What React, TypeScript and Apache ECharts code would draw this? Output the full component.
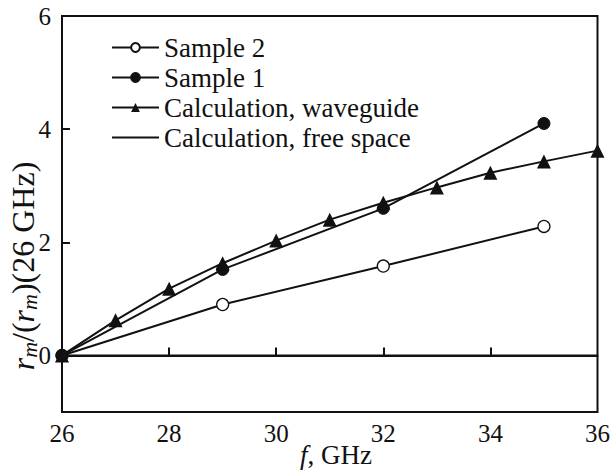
import React, { useEffect, useRef } from "react";
import * as echarts from "echarts";

const freqSample = [26, 29, 32, 35];
const sample2 = [0, 0.9, 1.58, 2.28];
const sample1 = [0, 1.52, 2.6, 4.1];
const freqCalc = [26, 27, 28, 29, 30, 31, 32, 33, 34, 35, 36];
const waveguide = [0, 0.62, 1.18, 1.63, 2.03, 2.4, 2.7, 2.97, 3.23, 3.43, 3.62];
const freeSpaceF = [26, 36];
const freeSpace = [0, 0];
const xTicks = [26, 28, 30, 32, 34, 36];
const yTicks = [0, 2, 4, 6];

const FONT = "Liberation Serif";
const INK = "#111";

export default function App() {
  const ref = useRef<HTMLDivElement>(null);
  useEffect(() => {
    const chart = echarts.init(ref.current!, null, { renderer: "svg" });
    const pair = (xs: number[], ys: number[]) => xs.map((x, i) => [x, ys[i]]);
    const lineStyle = { color: INK, width: 2 };
    chart.setOption({
      animation: false,
      backgroundColor: "#fff",
      textStyle: { fontFamily: FONT },
      grid: {
        left: 62,
        right: 13,
        top: 16,
        bottom: 58,
        show: true,
        borderColor: INK,
        borderWidth: 2,
      },
      legend: {
        orient: "vertical",
        left: 106,
        top: 28,
        itemWidth: 47,
        itemHeight: 11,
        itemGap: 1,
        textStyle: { fontFamily: FONT, fontSize: 27, lineHeight: 29, color: INK },
        data: [
          "Sample 2",
          "Sample 1",
          "Calculation, waveguide",
          {
            name: "Calculation, free space",
            itemStyle: { color: "rgba(0,0,0,0)", borderColor: "rgba(0,0,0,0)", borderWidth: 0 },
          },
        ],
      },
      xAxis: {
        type: "value",
        min: 26,
        max: 36,
        axisLine: { lineStyle: { color: INK, width: 2 } },
        axisTick: { inside: true, length: 8, customValues: xTicks.slice(1, -1), lineStyle: { color: INK, width: 2 } },
        splitLine: { show: false },
        axisLabel: { customValues: xTicks, fontFamily: FONT, fontSize: 25, color: INK, margin: 9 },
      },
      yAxis: {
        type: "value",
        min: -1,
        max: 6,
        axisLine: { show: true, lineStyle: { color: INK, width: 2 } },
        axisTick: { show: true, inside: true, length: 8, customValues: [2, 4], lineStyle: { color: INK, width: 2 } },
        splitLine: { show: false },
        axisLabel: { customValues: yTicks, fontFamily: FONT, fontSize: 25, color: INK, margin: 11 },
      },
      graphic: [
        {
          type: "text",
          x: 23,
          y: 266,
          rotation: Math.PI / 2,
          style: {
            text: "{i|r}{s|m}{n|/(}{i|r}{s|m}{n|)(26 GHz)}",
            align: "center",
            verticalAlign: "middle",
            rich: {
              i: { fontFamily: FONT, fontSize: 32, fontStyle: "italic", fill: INK, lineHeight: 32 },
              s: { fontFamily: FONT, fontSize: 22, fontStyle: "italic", fill: INK, padding: [13, 0, 0, 0], lineHeight: 32 },
              n: { fontFamily: FONT, fontSize: 32, fill: INK, lineHeight: 32 },
            },
          },
        },
        {
          type: "text",
          x: 336,
          y: 455,
          style: {
            text: "{i|f}{n|, GHz}",
            align: "center",
            verticalAlign: "middle",
            rich: {
              i: { fontFamily: FONT, fontSize: 27, fontStyle: "italic", fill: INK },
              n: { fontFamily: FONT, fontSize: 27, fill: INK },
            },
          },
        },
      ],
      series: [
        {
          name: "Calculation, free space",
          type: "line",
          data: pair(freeSpaceF, freeSpace),
          symbol: "none",
          lineStyle,
          itemStyle: { color: INK },
        },
        {
          name: "Sample 2",
          type: "line",
          data: pair(freqSample, sample2),
          symbol: "circle",
          symbolSize: 12,
          lineStyle,
          itemStyle: { color: "#fff", borderColor: INK, borderWidth: 1.3 },
          z: 3,
        },
        {
          name: "Sample 1",
          type: "line",
          data: pair(freqSample, sample1),
          symbol: "circle",
          symbolSize: 12,
          lineStyle,
          itemStyle: { color: INK, borderColor: INK, borderWidth: 1 },
          z: 3,
        },
        {
          name: "Calculation, waveguide",
          type: "line",
          data: pair(freqCalc, waveguide),
          symbol: "triangle",
          symbolSize: 14,
          lineStyle,
          itemStyle: { color: INK },
          z: 3,
        },
      ],
    });
    return () => chart.dispose();
  }, []);
  return <div ref={ref} style={{ width: 613, height: 470, position: "absolute", left: 0, top: 0 }} />;
}
